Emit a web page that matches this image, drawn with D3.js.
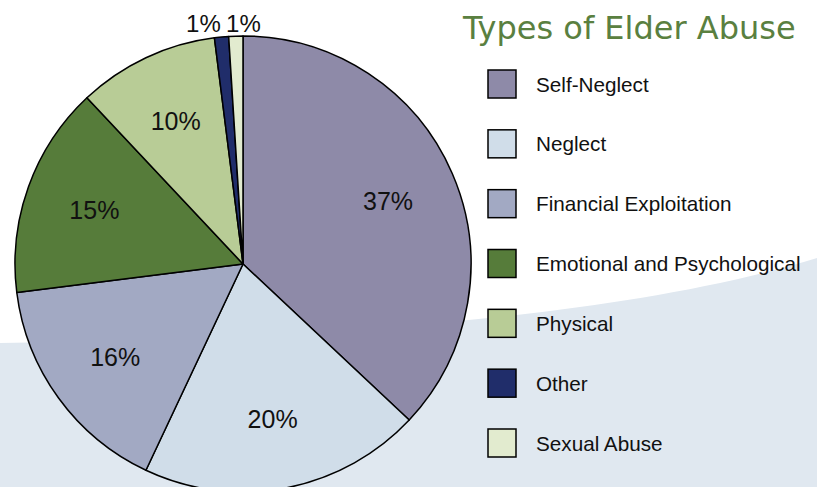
<!DOCTYPE html>
<html>
<head>
<meta charset="utf-8">
<script src="https://cdn.jsdelivr.net/npm/d3@7"></script>
<style>
  body { margin: 0; background: #ffffff; }
  svg { display: block; }
</style>
</head>
<body>
<svg id="chart"></svg>
<script>
const categories = ["Self-Neglect", "Neglect", "Financial Exploitation", "Emotional and Psychological", "Physical", "Other", "Sexual Abuse"];
const percents = [37, 20, 16, 15, 10, 1, 1];
const colors = ["#8e8aa8", "#d0dde9", "#a2a9c3", "#567c3a", "#b8cc96", "#202d6a", "#e2ebcf"];
const title = "Types of Elder Abuse";

const width = 817, height = 487;
const cx = 243, cy = 264, radius = 228;

const svg = d3.select("#chart").attr("width", width).attr("height", height);

// light background swoosh
svg.append("path")
    .attr("d", "M0,343 C250,340 600,325 817,258 L817,487 L0,487 Z")
    .attr("fill", "#e0e8f0");

const data = categories.map((c, i) => ({ name: c, value: percents[i], color: colors[i] }));

const pie = d3.pie().value(d => d.value).sort(null);
const arcs = pie(data);
const arc = d3.arc().innerRadius(0).outerRadius(radius);
const labelArc = d3.arc().innerRadius(158).outerRadius(158);
const outerArc = d3.arc().innerRadius(248).outerRadius(248);

const g = svg.append("g").attr("transform", `translate(${cx},${cy})`);

g.selectAll("path.slice")
    .data(arcs)
    .enter()
    .append("path")
    .attr("class", "slice")
    .attr("d", arc)
    .attr("fill", d => d.data.color)
    .attr("stroke", "#000")
    .attr("stroke-width", 1.5)
    .attr("stroke-linejoin", "round");

// inside labels for big slices, outside for tiny ones
const inside = arcs.filter(d => d.data.value >= 5);
const outside = arcs.filter(d => d.data.value < 5);

g.selectAll("text.inlabel")
    .data(inside)
    .enter()
    .append("text")
    .attr("class", "inlabel")
    .attr("transform", d => `translate(${labelArc.centroid(d)})`)
    .attr("text-anchor", "middle")
    .attr("dominant-baseline", "central")
    .style("font-family", "'Liberation Sans', Arial, sans-serif")
    .style("font-size", "25px")
    .style("fill", "#111")
    .text(d => d.data.value + "%");

// spread outside labels so they don't collide
const labelW = 40;
const outPos = outside.map(d => outerArc.centroid(d));
for (let i = 1; i < outPos.length; i++) {
    const gap = Math.abs(outPos[i][0] - outPos[i - 1][0]);
    if (gap < labelW) {
        const push = (labelW - gap) / 2;
        outPos[i - 1][0] -= push;
        outPos[i][0] += push;
    }
}

g.selectAll("text.outlabel")
    .data(outside)
    .enter()
    .append("text")
    .attr("class", "outlabel")
    .attr("x", (d, i) => outPos[i][0] - 4)
    .attr("y", -radius - 4)
    .attr("text-anchor", "middle")
    .style("font-family", "'Liberation Sans', Arial, sans-serif")
    .style("font-size", "24px")
    .style("fill", "#111")
    .text(d => d.data.value + "%");

// title
svg.append("text")
    .attr("x", 463)
    .attr("y", 39)
    .style("font-family", "'DejaVu Sans', Verdana, sans-serif")
    .style("font-size", "32px")
    .style("fill", "#5a8040")
    .text(title);

// legend
const legendY = d3.scalePoint().domain(categories).range([84, 443]);

const legend = svg.selectAll("g.legend")
    .data(data)
    .enter()
    .append("g")
    .attr("class", "legend")
    .attr("transform", d => `translate(488,${legendY(d.name)})`);

legend.append("rect")
    .attr("x", 0)
    .attr("y", -14)
    .attr("width", 28)
    .attr("height", 28)
    .attr("fill", d => d.color)
    .attr("stroke", "#000")
    .attr("stroke-width", 1.5);

legend.append("text")
    .attr("x", 48)
    .attr("y", 0)
    .attr("dominant-baseline", "central")
    .style("font-family", "'Liberation Sans', Arial, sans-serif")
    .style("font-size", "20.7px")
    .style("fill", "#111")
    .text(d => d.name);
</script>
</body>
</html>
